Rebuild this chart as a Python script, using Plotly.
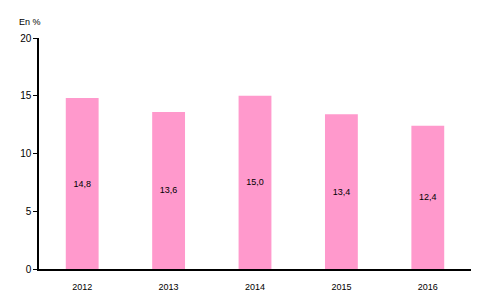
import plotly.graph_objects as go

years = ["2012", "2013", "2014", "2015", "2016"]
values = [14.8, 13.6, 15.0, 13.4, 12.4]
y_ticks = [0, 5, 10, 15, 20]

fig = go.Figure(go.Bar(
    x=years, y=values,
    marker=dict(color="#FF99CC", line=dict(width=0)),
    width=0.38,
    texttemplate="%{y:.1f}",
    textposition="inside",
    insidetextanchor="middle",
    textfont=dict(family="Liberation Sans", size=9, color="black"),
    hoverinfo="skip",
))

fig.update_layout(
    width=482, height=300,
    margin=dict(l=39, r=11, t=38, b=31),
    paper_bgcolor="white", plot_bgcolor="white",
    separators=", ",
    showlegend=False,
    font=dict(family="Liberation Sans", size=9, color="black"),
    annotations=[dict(text="En %", xref="paper", yref="paper",
                      x=-22/432, y=1 + 16/231,
                      xanchor="left", yanchor="middle",
                      showarrow=False, font=dict(size=9))],
)

fig.update_xaxes(showline=True, linecolor="black", linewidth=1.5,
                 ticks="", showgrid=False, ticklabelstandoff=8,
                 automargin=False, tickfont=dict(size=9))
fig.update_yaxes(range=[0, 20], tickvals=y_ticks, showline=True,
                 linecolor="black", linewidth=1.5, ticks="outside",
                 ticklen=4, tickcolor="black", showgrid=False,
                 automargin=False, zeroline=False, tickfont=dict(size=10))

fig.write_html("out.html")
